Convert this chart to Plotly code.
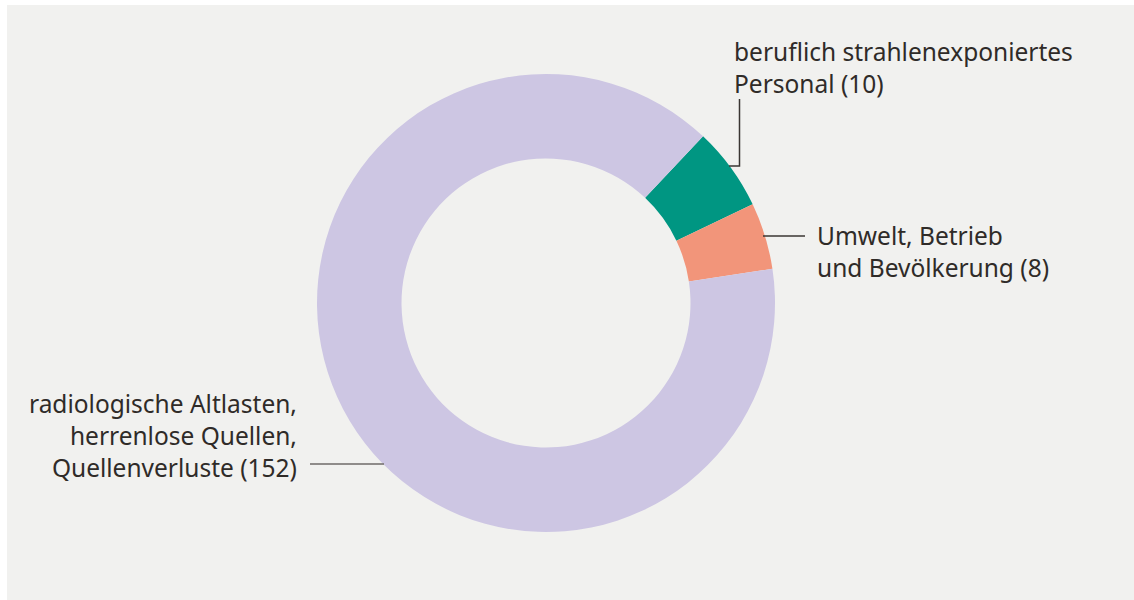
import plotly.graph_objects as go

W, H = 1134, 600

labels = ["beruflich strahlenexponiertes Personal",
          "Umwelt, Betrieb und Bevölkerung",
          "radiologische Altlasten, herrenlose Quellen, Quellenverluste"]
values = [10, 8, 152]
colors = ["#009682", "#f2957a", "#cdc6e3"]

label_texts = ["beruflich strahlenexponiertes<br>Personal (10)",
               "Umwelt, Betrieb<br>und Bevölkerung (8)",
               "radiologische Altlasten,<br>herrenlose Quellen,<br>Quellenverluste (152)"]

def px(x):
    return x / W

def py(y):
    return 1 - y / H

fig = go.Figure(go.Pie(
    labels=labels, values=values, sort=False, direction="clockwise",
    rotation=43.3, hole=0.631,
    marker=dict(colors=colors, line=dict(width=0)),
    textinfo="none", hoverinfo="label+value", showlegend=False,
    domain=dict(x=[px(546 - 229), px(546 + 229)], y=[py(532), py(74)]),
))

txtcol = "#2f2b28"
font = dict(family="Noto Sans, Open Sans, sans-serif", size=24.5, color=txtcol)

ann = [
    dict(x=px(732), y=py(67), xanchor="left", yanchor="middle", align="left",
         text=label_texts[0]),
    dict(x=px(815), y=py(252), xanchor="left", yanchor="middle", align="left",
         text=label_texts[1]),
    dict(x=px(299), y=py(435), xanchor="right", yanchor="middle", align="right",
         text=label_texts[2]),
]
for a in ann:
    a.update(xref="paper", yref="paper", showarrow=False, font=font)

shapes = [
    dict(type="rect", xref="paper", yref="paper", x0=px(7), x1=1, y0=0, y1=py(5),
         fillcolor="#f1f1ef", line=dict(width=0), layer="below"),
    dict(type="path", xref="paper", yref="paper",
         path=f"M {px(729)},{py(166)} L {px(739.5)},{py(166)} L {px(739.5)},{py(99)}",
         line=dict(color="#3a3633", width=1.5)),
    dict(type="line", xref="paper", yref="paper", x0=px(763), x1=px(805), y0=py(236), y1=py(236),
         line=dict(color="#3a3633", width=1.5)),
    dict(type="line", xref="paper", yref="paper", x0=px(310), x1=px(384), y0=py(464), y1=py(464),
         line=dict(color="#6e6a68", width=1.5)),
]

fig.update_layout(
    width=W, height=H, margin=dict(l=0, r=0, t=0, b=0),
    paper_bgcolor="white", plot_bgcolor="white",
    annotations=ann, shapes=shapes,
)

fig.write_html("out.html", config={"displayModeBar": False},
               post_script="document.body.style.margin='0';document.body.style.overflow='hidden';")
